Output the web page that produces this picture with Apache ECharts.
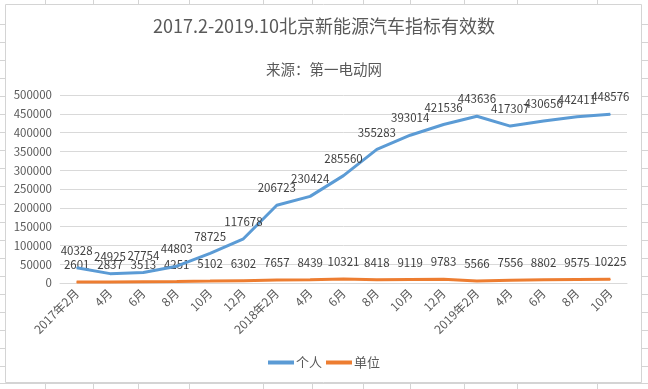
<!DOCTYPE html>
<html>
<head>
<meta charset="utf-8">
<script src="https://cdn.jsdelivr.net/npm/echarts@6/dist/echarts.min.js"></script>
<style>
html,body{margin:0;padding:0;background:#fff;}
#chart{width:648px;height:389px;}
</style>
</head>
<body>
<div id="chart"></div>
<script>
var categories = ['2017年2月','4月','6月','8月','10月','12月','2018年2月','4月','6月','8月','10月','12月','2019年2月','4月','6月','8月','10月'];
var personal = [40328, 24925, 27754, 44803, 78725, 117678, 206723, 230424, 285560, 355283, 393014, 421536, 443636, 417307, 430656, 442411, 448576];
var company = [2601, 2837, 3513, 4251, 5102, 6302, 7657, 8439, 10321, 8418, 9119, 9783, 5566, 7556, 8802, 9575, 10225];
var seriesNames = ['个人', '单位'];
var titleText = '2017.2-2019.10北京新能源汽车指标有效数';
var subtitleText = '来源：第一电动网';

var FONT = '"Noto Sans CJK SC", "Noto Sans", sans-serif';
var chart = echarts.init(document.getElementById('chart'));

// spreadsheet background lines (decoration)
var g = [];
var lineStyle = {stroke:'#d4d4d4', lineWidth:1};
var cols = [45, 93, 138, 189, 263, 312, 363, 410, 464, 517, 597];
cols.forEach(function(x){
  g.push({type:'line', shape:{x1:x+0.5,y1:0,x2:x+0.5,y2:4}, style:lineStyle, silent:true});
  g.push({type:'line', shape:{x1:x+0.5,y1:382,x2:x+0.5,y2:389}, style:lineStyle, silent:true});
});
for (var y = 24; y < 382; y += 18) {
  g.push({type:'line', shape:{x1:0,y1:y+0.5,x2:5,y2:y+0.5}, style:lineStyle, silent:true});
  g.push({type:'line', shape:{x1:642,y1:y+0.5,x2:648,y2:y+0.5}, style:lineStyle, silent:true});
}
g.push({type:'line', shape:{x1:0,y1:383.5,x2:648,y2:383.5}, style:lineStyle, silent:true});
g.push({type:'rect', shape:{x:5.5,y:4.5,width:636,height:378}, style:{fill:'none', stroke:'#d4d4d4', lineWidth:1}, silent:true, z:-1});

var labelStyle = {show:true, position:'top', distance:11, color:'#404040', fontSize:11.5, fontFamily:FONT};

chart.setOption({
  backgroundColor:'#ffffff',
  animation:false,
  graphic: g,
  title: [
    {text:titleText, left:'center', top:12, textStyle:{fontSize:18, fontWeight:'normal', color:'#595959', fontFamily:FONT}},
    {text:subtitleText, left:'center', top:57, textStyle:{fontSize:14.5, fontWeight:'normal', color:'#595959', fontFamily:FONT}}
  ],
  legend: {
    data: seriesNames,
    bottom: 15,
    left: 'center',
    icon: 'rect',
    itemWidth: 26,
    itemHeight: 4,
    itemGap: 4,
    textStyle:{fontSize:13, color:'#595959', fontFamily:FONT, padding:[0,0,0,-3]}
  },
  grid: {left:60, right:21, top:95, bottom:106},
  xAxis: {
    type:'category',
    data: categories,
    boundaryGap: true,
    axisLine:{lineStyle:{color:'#d9d9d9'}},
    axisTick:{show:false},
    axisLabel:{rotate:45, color:'#595959', fontSize:12, fontFamily:FONT, margin:8, interval:0}
  },
  yAxis: {
    type:'value',
    min:0, max:500000, interval:50000,
    axisLine:{show:false},
    axisTick:{show:false},
    splitLine:{lineStyle:{color:'#d9d9d9'}},
    axisLabel:{color:'#595959', fontSize:11.5, fontFamily:FONT, margin:8, formatter:function(v){return String(v);}}
  },
  series: [
    {name:seriesNames[0], type:'line', data:personal, symbol:'circle', symbolSize:1,
     itemStyle:{color:'#5b9bd5'}, lineStyle:{color:'#5b9bd5', width:3}, label:labelStyle, z:3},
    {name:seriesNames[1], type:'line', data:company, symbol:'circle', symbolSize:1,
     itemStyle:{color:'#ed7d31'}, lineStyle:{color:'#ed7d31', width:3}, label:labelStyle, z:2}
  ]
});
</script>
</body>
</html>
